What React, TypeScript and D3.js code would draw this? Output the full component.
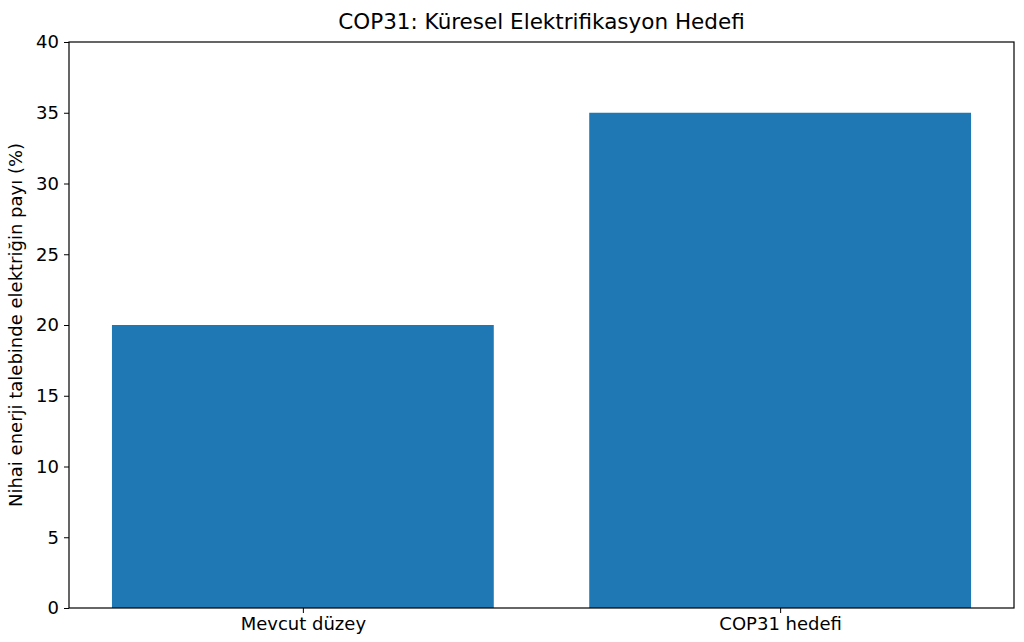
import { useRef, useEffect } from 'react';
import * as d3 from 'd3';

const categories = ['Mevcut düzey', 'COP31 hedefi'];
const shares = [20, 35];
const yTicks = [0, 5, 10, 15, 20, 25, 30, 35, 40];

const W = 1024;
const H = 642;
const FONT = '"DejaVu Sans", sans-serif';

export default function App() {
  const svgRef = useRef<SVGSVGElement>(null);

  useEffect(() => {
    if (!svgRef.current) return;
    const margin = { top: 42, right: 10, bottom: 34, left: 69 };
    const width = W - margin.left - margin.right;
    const height = H - margin.top - margin.bottom;

    const svg = d3.select(svgRef.current);
    svg.selectAll('*').remove();

    const g = svg.append('g').attr('transform', `translate(${margin.left},${margin.top})`);

    const x = d3.scaleLinear().domain([-0.49, categories.length - 1 + 0.49]).range([0, width]);
    const y = d3.scaleLinear().domain([0, 40]).range([height, 0]);

    g.selectAll('.bar')
      .data(shares)
      .join('rect')
      .attr('x', (_, i) => x(i - 0.4))
      .attr('width', (_, i) => x(i + 0.4) - x(i - 0.4))
      .attr('y', d => y(d))
      .attr('height', d => height - y(d))
      .attr('fill', '#1f77b4');

    // Frame
    g.append('rect')
      .attr('width', width)
      .attr('height', height)
      .attr('fill', 'none')
      .attr('stroke', '#000')
      .attr('stroke-width', 1.2);

    const yAxis = g.append('g').call(d3.axisLeft(y).tickValues(yTicks).tickSize(5).tickPadding(5));
    yAxis.select('.domain').remove();
    yAxis.selectAll('text').attr('font-size', 18).attr('font-family', FONT).attr('fill', '#000');
    yAxis.selectAll('line').attr('stroke', '#000');

    const xAxis = g.append('g')
      .attr('transform', `translate(0,${height})`)
      .call(d3.axisBottom(x).tickValues(categories.map((_, i) => i)).tickFormat((_, i) => categories[i]).tickSize(5).tickPadding(4));
    xAxis.select('.domain').remove();
    xAxis.selectAll('text').attr('font-size', 18).attr('font-family', FONT).attr('fill', '#000');
    xAxis.selectAll('line').attr('stroke', '#000');

    svg.append('text')
      .attr('x', margin.left + width / 2)
      .attr('y', 29)
      .attr('text-anchor', 'middle')
      .attr('font-size', 21.5)
      .attr('font-family', FONT)
      .text('COP31: Küresel Elektrifikasyon Hedefi');

    svg.append('text')
      .attr('transform', `translate(22,${margin.top + height / 2}) rotate(-90)`)
      .attr('text-anchor', 'middle')
      .attr('font-size', 18)
      .attr('font-family', FONT)
      .text('Nihai enerji talebinde elektriğin payı (%)');
  }, []);

  return (
    <svg ref={svgRef} width={W} height={H}
      style={{ position: 'absolute', left: 0, top: 0, background: '#fff' }} />
  );
}
